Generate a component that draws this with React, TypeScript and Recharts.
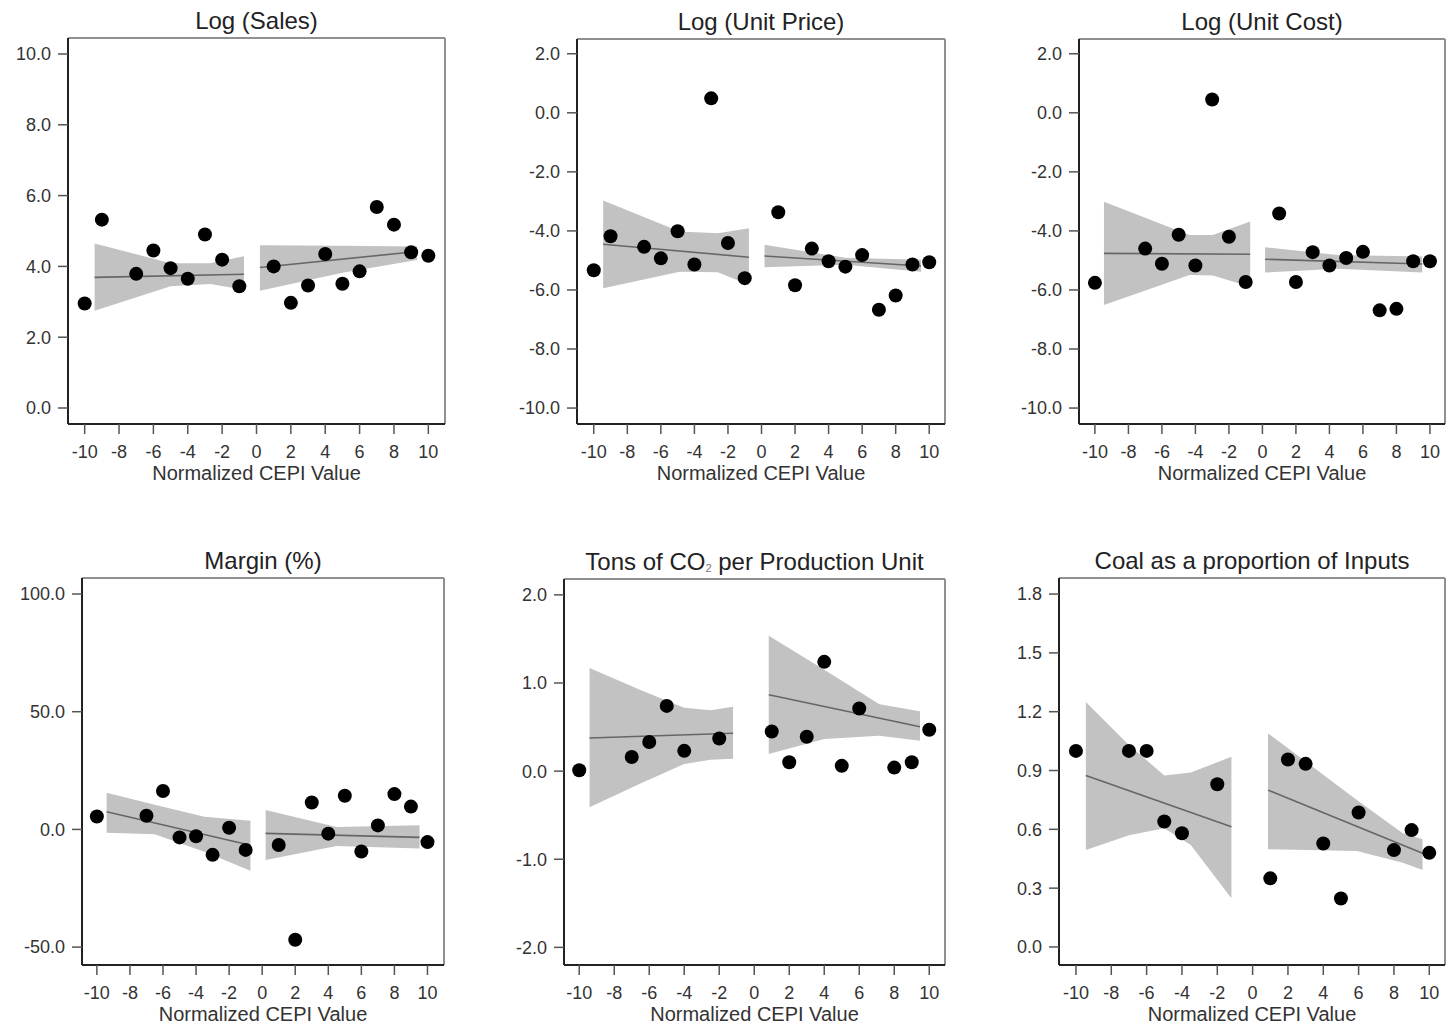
import React from "react";
import { Area, ComposedChart, Label, Line, ReferenceLine, Scatter, XAxis, YAxis } from "recharts";

const FONT = '"Liberation Sans", Arial, Helvetica, sans-serif';
const xTicks = [-10, -8, -6, -4, -2, 0, 2, 4, 6, 8, 10];

// Log (Sales)
const salesX = [-10, -9, -7, -6, -5, -4, -3, -2, -1, 1, 2, 3, 4, 5, 6, 7, 8, 9, 10];
const salesY = [2.95, 5.32, 3.79, 4.45, 3.95, 3.65, 4.9, 4.19, 3.44, 4.0, 2.97, 3.46, 4.35, 3.51, 3.86, 5.68, 5.18, 4.4, 4.3];
const salesLeftX = [-9.42, -5.0, -2.7, -0.73];
const salesLeftLo = [2.75, 3.44, 3.5, 3.34];
const salesLeftHi = [4.65, 4.09, 4.09, 4.29];
const salesLeftFit = [3.69, 3.78];
const salesRightX = [0.2, 5.0, 9.34];
const salesRightLo = [3.31, 3.82, 4.18];
const salesRightHi = [4.6, 4.58, 4.56];
const salesRightFit = [3.97, 4.42];

// Log (Unit Price)
const priceX = [-10, -9, -7, -6, -5, -4, -3, -2, -1, 1, 2, 3, 4, 5, 6, 7, 8, 9, 10];
const priceY = [-5.33, -4.18, -4.54, -4.93, -4.01, -5.14, 0.49, -4.41, -5.6, -3.37, -5.84, -4.6, -5.03, -5.21, -4.82, -6.67, -6.19, -5.14, -5.06];
const priceLeftX = [-9.44, -4.88, -2.6, -0.75];
const priceLeftLo = [-5.94, -5.38, -5.4, -5.83];
const priceLeftHi = [-2.97, -4.02, -4.08, -3.91];
const priceLeftFit = [-4.45, -4.89];
const priceRightX = [0.18, 5.0, 9.51];
const priceRightLo = [-5.23, -5.15, -5.38];
const priceRightHi = [-4.47, -4.91, -4.98];
const priceRightFit = [-4.85, -5.19];

// Log (Unit Cost)
const costX = [-10, -7, -6, -5, -4, -3, -2, -1, 1, 2, 3, 4, 5, 6, 7, 8, 9, 10];
const costY = [-5.76, -4.6, -5.11, -4.13, -5.17, 0.45, -4.2, -5.73, -3.41, -5.73, -4.72, -5.17, -4.92, -4.71, -6.69, -6.64, -5.03, -5.03];
const costLeftX = [-9.46, -4.35, -2.96, -0.73];
const costLeftLo = [-6.51, -5.49, -5.51, -5.89];
const costLeftHi = [-3.01, -4.14, -4.14, -3.68];
const costLeftFit = [-4.76, -4.79];
const costRightX = [0.16, 4.5, 9.54];
const costRightLo = [-5.41, -5.28, -5.41];
const costRightHi = [-4.55, -4.82, -4.87];
const costRightFit = [-4.96, -5.12];

// Margin (%)
const marginX = [-10, -7, -6, -5, -4, -3, -2, -1, 1, 2, 3, 4, 5, 6, 7, 8, 9, 10];
const marginY = [5.5, 5.8, 16.3, -3.4, -2.9, -10.8, 0.7, -8.7, -6.6, -46.9, 11.4, -1.8, 14.3, -9.4, 1.7, 15.0, 9.7, -5.4];
const marginLeftX = [-9.41, -6.5, -3.5, -0.71];
const marginLeftLo = [-1.4, -2.1, -9.5, -17.6];
const marginLeftHi = [15.6, 10.5, 5.4, 3.7];
const marginLeftFit = [7.5, -6.7];
const marginRightX = [0.21, 4.5, 9.52];
const marginRightLo = [-13.0, -7.0, -8.1];
const marginRightHi = [8.2, 1.0, 1.8];
const marginRightFit = [-1.7, -3.4];

// Tons of CO2 per Production Unit
const co2X = [-10, -7, -6, -5, -4, -2, 1, 2, 3, 4, 5, 6, 8, 9, 10];
const co2Y = [0.01, 0.16, 0.33, 0.74, 0.23, 0.37, 0.45, 0.1, 0.39, 1.24, 0.06, 0.71, 0.04, 0.1, 0.47];
const co2LeftX = [-9.41, -6.5, -4.0, -2.5, -1.21];
const co2LeftLo = [-0.41, -0.14, 0.08, 0.13, 0.14];
const co2LeftHi = [1.17, 0.92, 0.72, 0.69, 0.73];
const co2LeftFit = [0.376, 0.43];
const co2RightX = [0.83, 4.0, 7.15, 9.47];
const co2RightLo = [0.195, 0.365, 0.4, 0.346];
const co2RightHi = [1.535, 1.15, 0.76, 0.68];
const co2RightFit = [0.867, 0.504];

// Coal as a proportion of Inputs
const coalX = [-10, -7, -6, -5, -4, -2, 1, 2, 3, 4, 5, 6, 8, 9, 10];
const coalY = [1.0, 1.0, 1.0, 0.64, 0.58, 0.83, 0.35, 0.956, 0.934, 0.528, 0.247, 0.686, 0.494, 0.596, 0.48];
const coalLeftX = [-9.44, -7.0, -5.0, -3.5, -1.2];
const coalLeftLo = [0.495, 0.57, 0.605, 0.52, 0.248];
const coalLeftHi = [1.25, 1.03, 0.875, 0.89, 0.97];
const coalLeftFit = [0.874, 0.613];
const coalRightX = [0.87, 5.9, 8.5, 9.62];
const coalRightLo = [0.498, 0.49, 0.43, 0.393];
const coalRightHi = [1.09, 0.75, 0.58, 0.549];
const coalRightFit = [0.8, 0.478];

type PanelDef = {
  title: React.ReactNode;
  box: { l: number; r: number; t: number; b: number };
  xDomain: [number, number];
  yDomain: [number, number];
  yTicks: number[];
  px: number[];
  py: number[];
  lx: number[];
  llo: number[];
  lhi: number[];
  lfit: number[];
  rx: number[];
  rlo: number[];
  rhi: number[];
  rfit: number[];
};

const panels: PanelDef[] = [
  {
    title: "Log (Sales)",
    box: { l: 68, r: 445, t: 38, b: 424 },
    xDomain: [-10.97, 10.97],
    yDomain: [-0.452, 10.452],
    yTicks: [0, 2, 4, 6, 8, 10],
    px: salesX, py: salesY,
    lx: salesLeftX, llo: salesLeftLo, lhi: salesLeftHi, lfit: salesLeftFit,
    rx: salesRightX, rlo: salesRightLo, rhi: salesRightHi, rfit: salesRightFit,
  },
  {
    title: "Log (Unit Price)",
    box: { l: 577, r: 945, t: 39, b: 424 },
    xDomain: [-11.0, 10.94],
    yDomain: [-10.54, 2.5],
    yTicks: [-10, -8, -6, -4, -2, 0, 2],
    px: priceX, py: priceY,
    lx: priceLeftX, llo: priceLeftLo, lhi: priceLeftHi, lfit: priceLeftFit,
    rx: priceRightX, rlo: priceRightLo, rhi: priceRightHi, rfit: priceRightFit,
  },
  {
    title: "Log (Unit Cost)",
    box: { l: 1079, r: 1445, t: 39, b: 424 },
    xDomain: [-10.95, 10.9],
    yDomain: [-10.54, 2.5],
    yTicks: [-10, -8, -6, -4, -2, 0, 2],
    px: costX, py: costY,
    lx: costLeftX, llo: costLeftLo, lhi: costLeftHi, lfit: costLeftFit,
    rx: costRightX, rlo: costRightLo, rhi: costRightHi, rfit: costRightFit,
  },
  {
    title: "Margin (%)",
    box: { l: 82, r: 444, t: 578, b: 965 },
    xDomain: [-10.9, 11.0],
    yDomain: [-57.6, 106.8],
    yTicks: [-50, 0, 50, 100],
    px: marginX, py: marginY,
    lx: marginLeftX, llo: marginLeftLo, lhi: marginLeftHi, lfit: marginLeftFit,
    rx: marginRightX, rlo: marginRightLo, rhi: marginRightHi, rfit: marginRightFit,
  },
  {
    title: (
      <>
        Tons of CO<sub style={{ fontSize: 11, color: "#777", verticalAlign: "-2px" }}>2</sub> per Production Unit
      </>
    ),
    box: { l: 564, r: 945, t: 579, b: 965 },
    xDomain: [-10.87, 10.9],
    yDomain: [-2.2, 2.18],
    yTicks: [-2, -1, 0, 1, 2],
    px: co2X, py: co2Y,
    lx: co2LeftX, llo: co2LeftLo, lhi: co2LeftHi, lfit: co2LeftFit,
    rx: co2RightX, rlo: co2RightLo, rhi: co2RightHi, rfit: co2RightFit,
  },
  {
    title: "Coal as a proportion of Inputs",
    box: { l: 1059, r: 1445, t: 578, b: 965 },
    xDomain: [-10.96, 10.89],
    yDomain: [-0.092, 1.882],
    yTicks: [0, 0.3, 0.6, 0.9, 1.2, 1.5, 1.8],
    px: coalX, py: coalY,
    lx: coalLeftX, llo: coalLeftLo, lhi: coalLeftHi, lfit: coalLeftFit,
    rx: coalRightX, rlo: coalRightLo, rhi: coalRightHi, rfit: coalRightFit,
  },
];

const Y_W = 80;
const TOP = 4;
const RIGHT = 3;
const X_H = 62;

function buildRows(p: PanelDef) {
  const left = p.lx.map((x, i) => ({
    x,
    bandL: [p.llo[i], p.lhi[i]],
    fitL: i === 0 ? p.lfit[0] : i === p.lx.length - 1 ? p.lfit[1] : undefined,
  }));
  const right = p.rx.map((x, i) => ({
    x,
    bandR: [p.rlo[i], p.rhi[i]],
    fitR: i === 0 ? p.rfit[0] : i === p.rx.length - 1 ? p.rfit[1] : undefined,
  }));
  return [...left, ...right];
}

const Dot = (props: any) => <circle cx={props.cx} cy={props.cy} r={7} fill="#000" />;

function CepiPanel({ p }: { p: PanelDef }) {
  const w = p.box.r - p.box.l;
  const h = p.box.b - p.box.t;
  const rows = buildRows(p);
  const points = p.px.map((x, i) => ({ x, y: p.py[i] }));
  const tickStyle = { fontSize: 18, fill: "#333", fontFamily: FONT };

  return (
    <>
      <div
        style={{
          position: "absolute",
          left: (p.box.l + p.box.r) / 2 - 250,
          width: 500,
          top: p.box.t - 9 - 20.3,
          lineHeight: "24px",
          fontSize: 24,
          textAlign: "center",
          color: "#222",
          fontFamily: FONT,
          whiteSpace: "nowrap",
        }}
      >
        {p.title}
      </div>
      <div style={{ position: "absolute", left: p.box.l - Y_W, top: p.box.t - TOP }}>
        <ComposedChart
          width={w + Y_W + RIGHT}
          height={h + TOP + X_H}
          data={rows}
          margin={{ top: TOP, right: RIGHT, bottom: 0, left: 0 }}
        >
          <XAxis
            dataKey="x"
            type="number"
            domain={p.xDomain}
            allowDataOverflow
            ticks={xTicks}
            interval={0}
            height={X_H}
            tickSize={10}
            tickMargin={11}
            tick={tickStyle}
            tickLine={{ stroke: "#555", strokeWidth: 1.5 }}
            axisLine={{ stroke: "#222", strokeWidth: 2 }}
          >
            <Label
              value="Normalized CEPI Value"
              position="insideBottom"
              offset={6.5}
              fontSize={20}
              fill="#333"
              fontFamily={FONT}
            />
          </XAxis>
          <YAxis
            type="number"
            domain={p.yDomain}
            allowDataOverflow
            ticks={p.yTicks}
            interval={0}
            width={Y_W}
            tickSize={10}
            tickMargin={7}
            tickFormatter={(v: number) => v.toFixed(1)}
            tick={tickStyle}
            tickLine={{ stroke: "#555", strokeWidth: 1.5 }}
            axisLine={{ stroke: "#222", strokeWidth: 2 }}
          />
          <Area dataKey="bandL" type="linear" fill="#c2c2c2" fillOpacity={1} stroke="none" isAnimationActive={false} />
          <Area dataKey="bandR" type="linear" fill="#c2c2c2" fillOpacity={1} stroke="none" isAnimationActive={false} />
          <Line dataKey="fitL" type="linear" stroke="#666" strokeWidth={1.6} dot={false} connectNulls isAnimationActive={false} />
          <Line dataKey="fitR" type="linear" stroke="#666" strokeWidth={1.6} dot={false} connectNulls isAnimationActive={false} />
          <ReferenceLine y={p.yDomain[1]} stroke="#909090" strokeWidth={2} />
          <ReferenceLine x={p.xDomain[1]} stroke="#909090" strokeWidth={2} />
          <Scatter data={points} dataKey="y" shape={Dot} isAnimationActive={false} />
        </ComposedChart>
      </div>
    </>
  );
}

export default function App() {
  return (
    <div
      style={{
        position: "absolute",
        left: 0,
        top: 0,
        width: 1447,
        height: 1027,
        overflow: "hidden",
        background: "#fff",
        fontFamily: FONT,
      }}
    >
      {panels.map((p, i) => (
        <CepiPanel key={i} p={p} />
      ))}
    </div>
  );
}
